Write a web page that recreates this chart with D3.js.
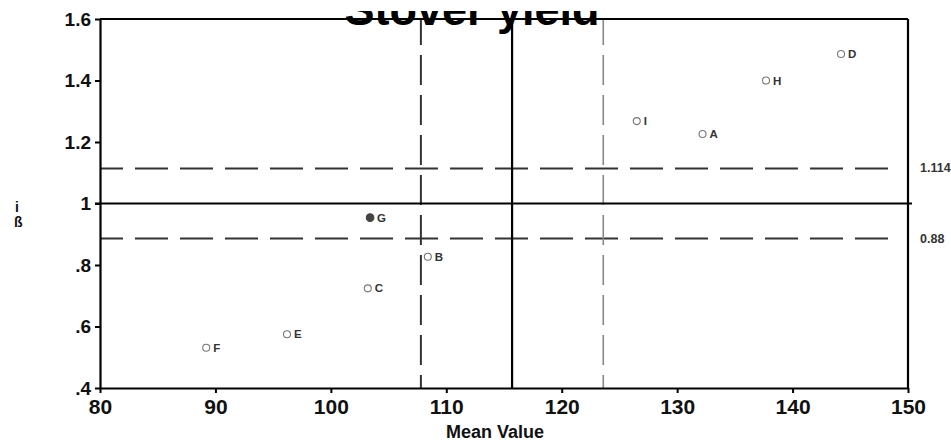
<!DOCTYPE html>
<html>
<head>
<meta charset="utf-8">
<script src="https://cdn.jsdelivr.net/npm/d3@7"></script>
<style>
  body { margin: 0; background: #fff; }
  svg { display: block; font-family: Arial, "Liberation Sans", sans-serif; }
</style>
</head>
<body>
<div id="chart"></div>
<script>
"use strict";

// genotypes and their stability values
var genotypes = ['A', 'B', 'C', 'D', 'E', 'F', 'G', 'H', 'I'];
var meanValues = [132.2, 108.4, 103.2, 144.2, 96.2, 89.2, 103.4, 137.7, 126.5];
var betaValues = [1.226, 0.827, 0.724, 1.486, 0.575, 0.531, 0.954, 1.400, 1.268];
var filledGenotypes = ['G'];

// reference lines
var grandMean = 115.7;
var meanLimits = [107.8, 123.6];
var betaLimits = [0.886, 1.114];
var betaLimitLabels = ['0.88', '1.114'];

var xTicks = [80, 90, 100, 110, 120, 130, 140, 150];
var yTicks = [0.4, 0.6, 0.8, 1.0, 1.2, 1.4, 1.6];
var yTickLabels = ['.4', '.6', '.8', '1', '1.2', '1.4', '1.6'];

var chartTitle = 'Stover yield';
var xTitle = 'Mean Value';

(function() {

  var W = 951, H = 444;
  var margin = { top: 19, right: 43, bottom: 56, left: 100 };
  var innerW = W - margin.left - margin.right;
  var innerH = H - margin.top - margin.bottom;

  var svg = d3.select('#chart').append('svg')
    .attr('width', W)
    .attr('height', H);

  var x = d3.scaleLinear().domain([80, 150]).range([0, innerW]);
  var y = d3.scaleLinear().domain([0.4, 1.6]).range([innerH, 0]);

  // the source picture was cropped through the title, keep only its lower part
  svg.append('clipPath')
    .attr('id', 'title-clip')
    .append('rect')
    .attr('x', 0).attr('y', 11)
    .attr('width', W).attr('height', 40);

  var g = svg.append('g')
    .attr('transform', 'translate(' + margin.left + ',' + margin.top + ')');

  svg.append('text')
    .attr('clip-path', 'url(#title-clip)')
    .attr('x', 472)
    .attr('y', 25)
    .attr('text-anchor', 'middle')
    .attr('font-size', 45)
    .attr('font-weight', 'bold')
    .attr('fill', '#000')
    .text(chartTitle);

  // horizontal dashed limits
  g.selectAll('.beta-limit')
    .data(betaLimits)
    .enter().append('line')
    .attr('class', 'beta-limit')
    .attr('x1', 0)
    .attr('x2', innerW - 11)
    .attr('y1', function(d) { return y(d); })
    .attr('y2', function(d) { return y(d); })
    .attr('stroke', '#333')
    .attr('stroke-width', 2)
    .attr('stroke-dasharray', '33,12')
    .attr('stroke-dashoffset', 10);

  g.selectAll('.beta-label')
    .data(betaLimits)
    .enter().append('text')
    .attr('class', 'beta-label')
    .attr('x', innerW + 12)
    .attr('y', function(d) { return y(d) + 4; })
    .attr('font-size', 12.5)
    .attr('font-weight', 'bold')
    .attr('fill', '#333')
    .text(function(d, i) { return betaLimitLabels[i]; });

  // vertical dashed limits, drawn from the bottom up
  g.selectAll('.mean-limit')
    .data(meanLimits)
    .enter().append('line')
    .attr('class', 'mean-limit')
    .attr('x1', function(d) { return x(d); })
    .attr('x2', function(d) { return x(d); })
    .attr('y1', innerH)
    .attr('y2', 0)
    .attr('stroke', function(d, i) { return i === 0 ? '#333' : '#888'; })
    .attr('stroke-width', function(d, i) { return i === 0 ? 2 : 1.6; })
    .attr('stroke-dasharray', '30,10')
    .attr('stroke-dashoffset', 17);

  // solid reference lines
  g.append('line')
    .attr('x1', -5)
    .attr('x2', innerW + 4)
    .attr('y1', y(1))
    .attr('y2', y(1))
    .attr('stroke', '#000')
    .attr('stroke-width', 2);

  g.append('line')
    .attr('x1', x(grandMean))
    .attr('x2', x(grandMean))
    .attr('y1', 0)
    .attr('y2', innerH)
    .attr('stroke', '#000')
    .attr('stroke-width', 2.2);

  // axes
  var xAxis = d3.axisBottom(x)
    .tickValues(xTicks)
    .tickSizeInner(5)
    .tickSizeOuter(0)
    .tickPadding(6);

  var yAxis = d3.axisLeft(y)
    .tickValues(yTicks)
    .tickSizeInner(5)
    .tickSizeOuter(0)
    .tickPadding(4)
    .tickFormat(function(d, i) { return yTickLabels[i]; });

  var gx = g.append('g')
    .attr('transform', 'translate(0,' + innerH + ')')
    .call(xAxis);

  var gy = g.append('g').call(yAxis);

  [gx, gy].forEach(function(ax) {
    ax.select('.domain').attr('stroke', '#000').attr('stroke-width', 2.2);
    ax.selectAll('.tick line').attr('stroke', '#000').attr('stroke-width', 2);
    ax.selectAll('.tick text')
      .attr('fill', '#111')
      .attr('font-weight', 'bold')
      .attr('font-family', 'Arial, "Liberation Sans", sans-serif');
  });
  gx.selectAll('.tick text').attr('font-size', 21);
  gy.selectAll('.tick text').attr('font-size', 19);

  // top and right frame
  g.append('line')
    .attr('x1', 0).attr('x2', innerW)
    .attr('y1', 0).attr('y2', 0)
    .attr('stroke', '#000').attr('stroke-width', 2.2);
  g.append('line')
    .attr('x1', innerW).attr('x2', innerW)
    .attr('y1', 0).attr('y2', innerH)
    .attr('stroke', '#000').attr('stroke-width', 2.2);

  // axis titles
  svg.append('text')
    .attr('x', 495)
    .attr('y', 438)
    .attr('text-anchor', 'middle')
    .attr('font-size', 18)
    .attr('font-weight', 'bold')
    .attr('fill', '#111')
    .text(xTitle);

  var yLab = svg.append('text')
    .attr('font-size', 14)
    .attr('font-weight', 'bold')
    .attr('fill', '#111');
  yLab.append('tspan').attr('x', 15).attr('y', 212).text('i');
  yLab.append('tspan').attr('x', 14).attr('y', 227).text('\u00df');

  // points
  var pts = genotypes.map(function(name, i) {
    return { name: name, mean: meanValues[i], beta: betaValues[i] };
  });

  var isFilled = function(d) {
    return filledGenotypes.indexOf(d.name) !== -1;
  };

  var pg = g.selectAll('.pt')
    .data(pts)
    .enter().append('g')
    .attr('class', 'pt')
    .attr('transform', function(d) {
      return 'translate(' + x(d.mean) + ',' + y(d.beta) + ')';
    });

  pg.append('circle')
    .attr('r', function(d) { return isFilled(d) ? 3.8 : 3.5; })
    .attr('fill', function(d) { return isFilled(d) ? '#444' : '#fff'; })
    .attr('stroke', function(d) { return isFilled(d) ? '#444' : '#777'; })
    .attr('stroke-width', 1.1);

  pg.append('text')
    .attr('x', 7)
    .attr('y', 4)
    .attr('font-size', 11.5)
    .attr('font-weight', 'bold')
    .attr('fill', '#333')
    .text(function(d) { return d.name; });

}());
</script>
</body>
</html>
